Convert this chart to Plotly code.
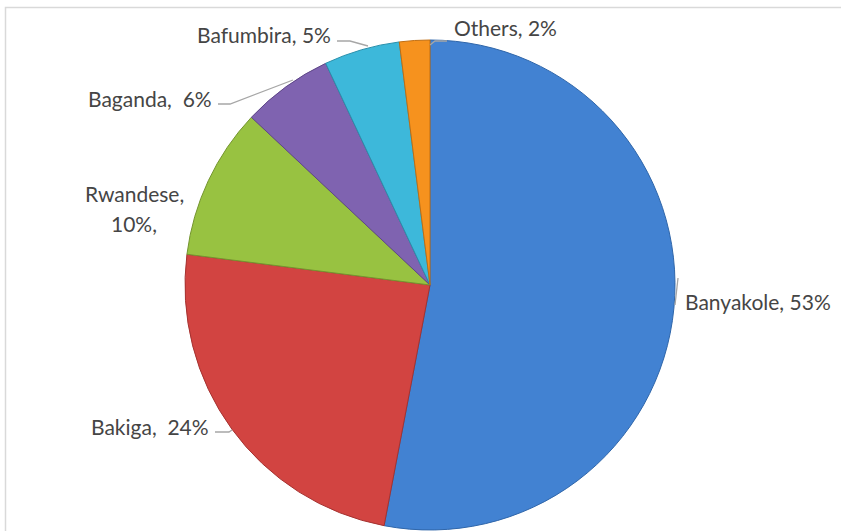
import plotly.graph_objects as go

# Ethnic composition of respondents (percent)
groups = ["Banyakole", "Bakiga", "Rwandese", "Baganda", "Bafumbira", "Others"]
shares = [53, 24, 10, 6, 5, 2]
label_lines = [["Banyakole, 53%"], ["Bakiga,  24%"], ["Rwandese,", "10%,"], ["Baganda,  6%"],
               ["Bafumbira, 5%"], ["Others, 2%"]]
colors = ["#4282D2", "#D24441", "#98C241", "#7F63B0", "#3DB8DA", "#F6921E"]
edge_colors = ["#2F66AA", "#A53230", "#74952F", "#5F4788", "#2A90AC", "#C06E12"]

W, H = 841, 531
CX, CY, R = 430, 285, 245
LINE_GAP = 31


def px(x, y):
    """Pixel position -> paper coordinates."""
    return x / W, 1 - y / H


fig = go.Figure()

fig.add_trace(go.Pie(
    labels=groups, values=shares, sort=False, direction="clockwise", rotation=0,
    marker=dict(colors=colors, line=dict(color=edge_colors, width=1)),
    textinfo="none", showlegend=False,
    domain=dict(x=[(CX - R) / W, (CX + R) / W], y=[(H - CY - R) / H, (H - CY + R) / H]),
))

# label placement: (x, y of first line, xanchor)
label_pos = {
    "Banyakole": (683, 301, "left"),
    "Bakiga": (211, 426, "right"),
    "Rwandese": (134, 193, "center"),
    "Baganda": (214, 99, "right"),
    "Bafumbira": (333, 34, "right"),
    "Others": (452, 28, "left"),
}
for g, lines in zip(groups, label_lines):
    x, y, xa = label_pos[g]
    for i, t in enumerate(lines):
        ax, ay = px(x, y + i * LINE_GAP)
        fig.add_annotation(x=ax, y=ay, xref="paper", yref="paper", text=t, showarrow=False,
                           xanchor=xa, yanchor="middle", align="center",
                           font=dict(family="Lato", size=21, color="#454545"))

# leader lines
leaders = [
    [(678, 278), (675, 305)],
    [(215, 432), (229, 432), (232, 430)],
    [(218, 104), (230, 104), (293, 80)],
    [(337, 41), (350, 41), (368, 46)],
    [(430, 45), (435, 41), (447, 41)],
]
for pts in leaders:
    path = "M " + " L ".join("%f,%f" % px(x, y) for x, y in pts)
    fig.add_shape(type="path", path=path, xref="paper", yref="paper",
                  line=dict(color="#A6A6A6", width=1.3))

# chart frame
x0, y0 = px(5.5, 7.5)
x1, y1 = px(850, 545)
fig.add_shape(type="rect", xref="paper", yref="paper", x0=x0, y0=y1, x1=x1, y1=y0,
              line=dict(color="#D9D9D9", width=1.5))

fig.update_layout(width=W, height=H, margin=dict(l=0, r=0, t=0, b=0),
                  paper_bgcolor="white", plot_bgcolor="white")

fig.write_html("out.html")
